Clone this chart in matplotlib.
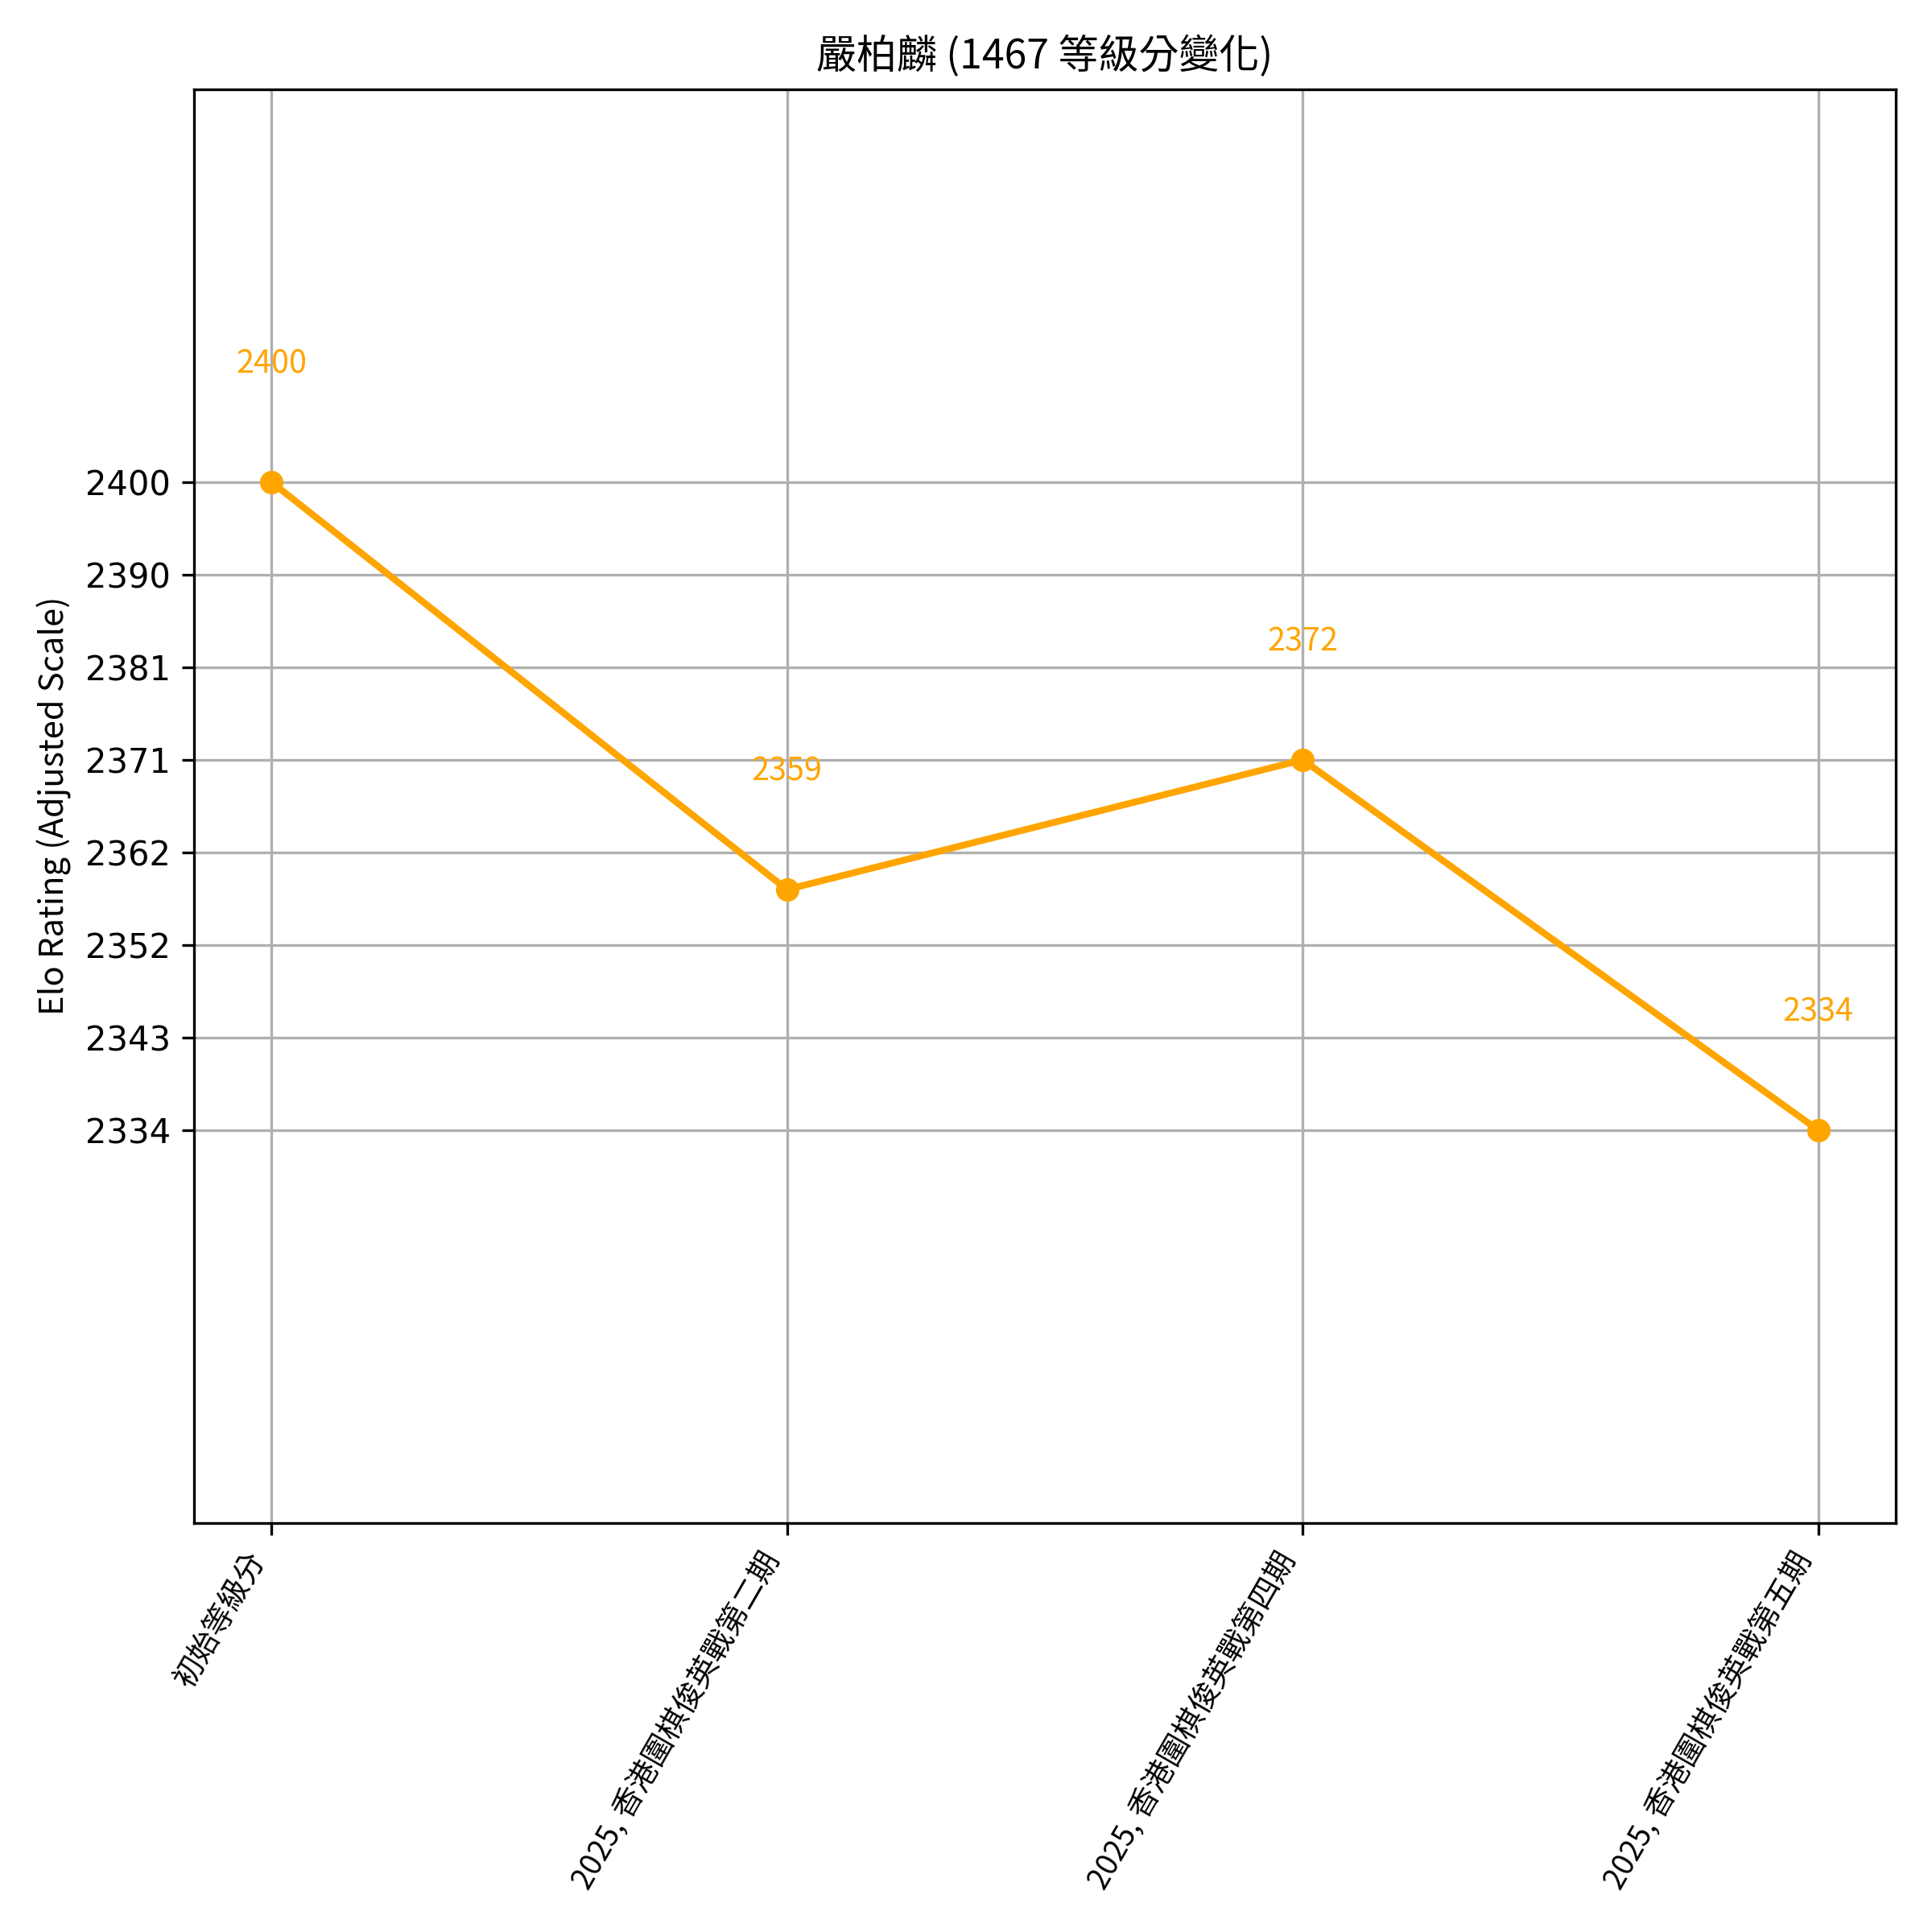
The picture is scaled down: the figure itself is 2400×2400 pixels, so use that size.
"""Elo rating history chart."""

import numpy as np
import matplotlib
matplotlib.use("Agg")
import matplotlib.pyplot as plt

CJK = ["Noto Sans CJK TC", "DejaVu Sans"]

player = "嚴柏麟"
player_id = 1467
events = [
    "初始等級分",
    "2025, 香港圍棋俊英戰第二期",
    "2025, 香港圍棋俊英戰第四期",
    "2025, 香港圍棋俊英戰第五期",
]
ratings = [2400, 2358.5, 2371.7, 2334]
rating_labels = ["2400", "2359", "2372", "2334"]


def plot_ratings(output_path="out.png"):
    fig, ax = plt.subplots(figsize=(8, 8))
    x = np.arange(len(events))

    ax.plot(x, ratings, marker="o", color="orange", linewidth=2)
    for xi, yi, lab in zip(x, ratings, rating_labels):
        ax.text(xi, yi + 12, lab, color="orange", ha="center", va="center",
                fontsize=9.5, family=CJK)

    lo, hi = min(ratings), max(ratings)
    ax.set_ylim(lo - 40, hi + 40)
    yt = np.linspace(lo, hi, 8)
    ax.set_yticks(yt)
    ax.set_yticklabels([str(int(v)) for v in yt])

    ax.set_xticks(x)
    ax.set_xticklabels(events, rotation=60, ha="right", fontsize=9, family=CJK)
    ax.set_ylabel("Elo Rating (Adjusted Scale)", fontsize=10, family=CJK)
    ax.set_title(f"{player} ({player_id} 等級分變化)", fontsize=12, family=CJK)
    ax.grid(True)

    plt.tight_layout()
    plt.savefig(output_path, dpi=300)
    plt.close()


plot_ratings()
